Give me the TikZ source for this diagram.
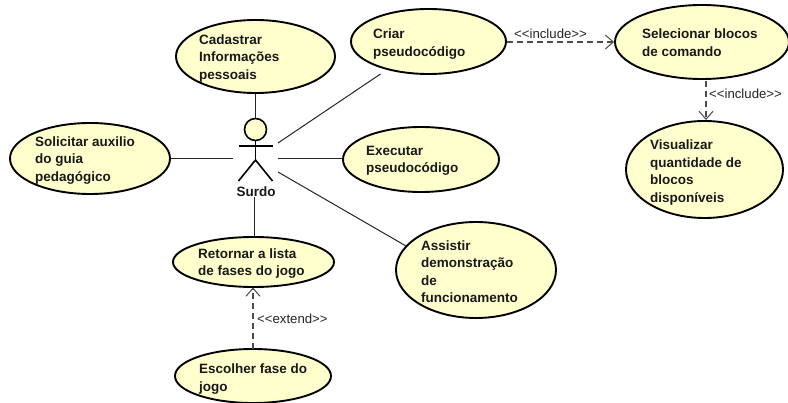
\documentclass[tikz,border=0pt]{standalone}
\usepackage{fontspec}
\setmainfont{Liberation Sans}
\usetikzlibrary{shapes.geometric,arrows.meta}
\definecolor{ucfill}{RGB}{255,255,206}
\tikzset{
  uc/.style={ellipse,draw=black,line width=1.9pt,fill=ucfill,inner sep=0pt},
  uctext/.style={anchor=west,align=left,inner sep=0pt,font=\fontsize{13.5}{17.4}\selectfont\bfseries,text=black!90},
  assoc/.style={draw=black!85,line width=1pt},
  dep/.style={draw=black!70,line width=1.1pt,dash pattern=on 6pt off 4pt,-{Straight Barb[length=8pt,width=14pt,line width=1pt]}},
  stereo/.style={anchor=west,inner sep=0pt,font=\fontsize{13.2}{15}\selectfont,text=black!85},
  limb/.style={draw=black,line width=1.6pt}
}
\begin{document}
\begin{tikzpicture}[x=1pt,y=-1pt]
\useasboundingbox (0,0) rectangle (788,403);
\clip (0,0) rectangle (788,403);
\fill[white] (0,0) rectangle (788,403);
% use cases
\node[uc,minimum width=159pt,minimum height=73pt] (cad) at (255.5,56.5) {};
\node[uc,minimum width=155pt,minimum height=65pt] (cri) at (428.5,41.5) {};
\node[uc,minimum width=156pt,minimum height=65pt] (exe) at (421,159.5) {};
\node[uc,minimum width=160pt,minimum height=71pt] (sol) at (90,158.5) {};
\node[uc,minimum width=174pt,minimum height=74pt] (sel) at (702,42) {};
\node[uc,minimum width=157pt,minimum height=97pt] (vis) at (704.5,169.5) {};
\node[uc,minimum width=161pt,minimum height=50pt] (ret) at (253.5,262) {};
\node[uc,minimum width=156pt,minimum height=54pt] (esc) at (253,376) {};
\node[uc,minimum width=160pt,minimum height=96pt] (ass) at (476,270) {};
% labels
\node[uctext] (cadT) at (199,58.5) {Cadastrar\\Informações\\pessoais};
\node[uctext] (criT) at (373,44) {Criar\\pseudocódigo};
\node[uctext] (exeT) at (366,160.5) {Executar\\pseudocódigo};
\node[uctext] (solT) at (35,160.5) {Solicitar auxilio\\do guia\\pedagógico};
\node[uctext] (selT) at (642,42.5) {Selecionar blocos\\de comando};
\node[uctext] (visT) at (650,172.5) {Visualizar\\quantidade de\\blocos\\disponíveis};
\node[uctext] (retT) at (198,263.5) {Retornar a lista\\de fases do jogo};
\node[uctext] (escT) at (199,379) {Escolher fase do\\jogo};
\node[uctext] (assT) at (421,271.5) {Assistir\\demonstração\\de\\funcionamento};
% actor
\node[circle,draw=black,line width=1.6pt,fill=ucfill,minimum size=22pt,inner sep=0pt] (head) at (255.5,129.5) {};
\coordinate (hip) at (255.5,160);
\coordinate (armL) at (238.5,146);
\coordinate (armR) at (272.5,146);
\coordinate (footL) at (238.5,181);
\coordinate (footR) at (272.5,181);
\draw[limb] (head.south) -- (hip);
\draw[limb] (armL) -- (armR);
\draw[limb] (footL) -- (hip) -- (footR);
\node[anchor=center,inner sep=0pt,font=\fontsize{13.5}{15}\selectfont\bfseries,text=black!90] (surdo) at (256,191.5) {Surdo};
% association ends near the actor
\coordinate (aCadEnd) at (255.5,118);
\coordinate (aCri) at (278,143);
\coordinate (aExe) at (278,158.5);
\coordinate (aSol) at (233,158.5);
\coordinate (aRet) at (254.5,197);
\coordinate (aAss) at (278,172);
\coordinate (criEnd) at (380.5,74);
\coordinate (assEnd) at (406,246);
\draw[assoc] (cad.south) -- (aCadEnd);
\draw[assoc] (aCri) -- (criEnd);
\draw[assoc] (aExe) -- (exe.west |- aExe);
\draw[assoc] (sol.east) -- (aSol);
\draw[assoc] (aRet) -- (ret.north -| aRet);
\draw[assoc] (aAss) -- (assEnd);
% dependencies
\coordinate (criDep) at (507,42);
\coordinate (selDep) at (706,81);
\coordinate (visDep) at (706,120);
\coordinate (retDep) at (253,287.5);
\coordinate (escDep) at (253,349);
\draw[dep] (criDep) -- (sel.west);
\draw[dep] (selDep) -- (visDep);
\draw[dep] (escDep) -- (retDep);
\node[stereo] (inc1) at (514,33.5) {<{}<include>{}>};
\node[stereo] (inc2) at (709,94) {<{}<include>{}>};
\node[stereo] (ext) at (257,319) {<{}<extend>{}>};
\end{tikzpicture}
\end{document}
